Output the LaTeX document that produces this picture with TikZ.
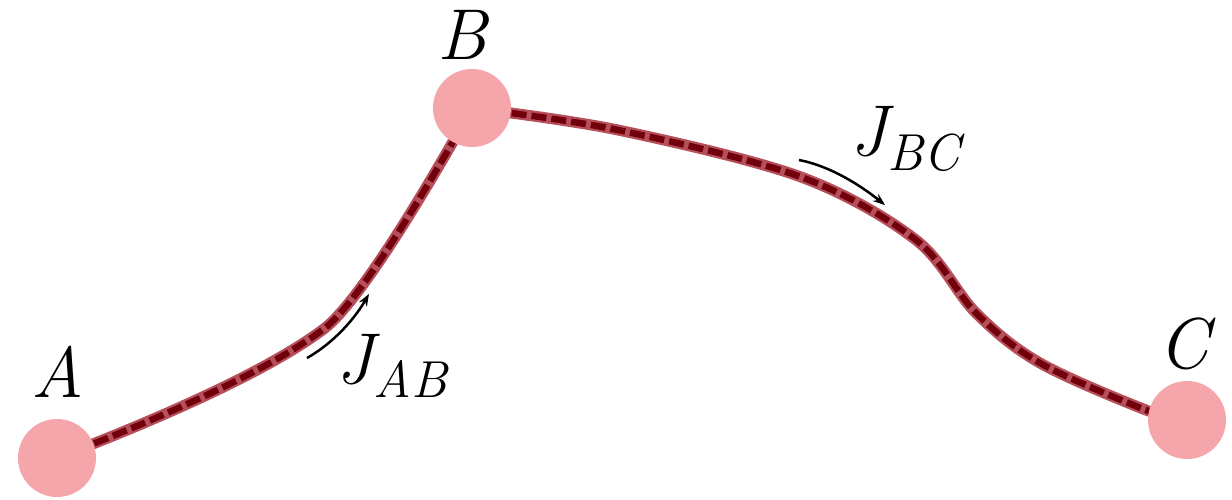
\documentclass[tikz,border=0pt]{standalone}
\usepackage{fontspec}
\usetikzlibrary{arrows.meta}
\definecolor{dotpink}{HTML}{F4A6AA}
\definecolor{lineouter}{HTML}{B5505B}
\definecolor{lineinner}{HTML}{72000C}
\newcommand{\subtxt}[1]{\raisebox{-0.2em}{\fontsize{52}{56}\selectfont #1}}
\begin{document}
\begin{tikzpicture}[x=1pt,y=-1pt,
  dot/.style={circle,fill=dotpink,minimum size=78pt,inner sep=0pt},
  lbl/.style={inner sep=0pt,font=\fontsize{72}{80}\selectfont\itshape},
  pathouter/.style={line width=11pt,draw=lineouter},
  pathinner/.style={line width=6.5pt,draw=lineinner,dash pattern=on 15pt off 5pt},
  flow/.style={line width=2.5pt,-{Stealth[length=12pt,width=9pt]}}]
\useasboundingbox (0,0) rectangle (1232,499);
\coordinate (A) at (57,458);
\coordinate (B) at (472,108);
\coordinate (C) at (1187,420);
% way points of the connectors
\coordinate (ab) at (325,328);
\coordinate (bc1) at (618,130);
\coordinate (bc2) at (801,177);
\coordinate (bc3) at (916,240);
\coordinate (bc4) at (976,313);
\coordinate (bc5) at (1040,363);
\coordinate (bc6) at (1146,410);
\foreach \s in {pathouter,pathinner}{
  \draw[\s] (A) .. controls (200,403) and (283,360) .. (ab)
                .. controls (352,307) and (405,228) .. (B);
  \draw[\s] plot[smooth,tension=0.55] coordinates {(B) (bc1) (bc2) (bc3) (bc4) (bc5) (bc6) (C)};
}
\node[dot] (nA) at (A) {};
\node[dot] (nB) at (B) {};
\node[dot] (nC) at (C) {};
\node[lbl] (lA) at (58,372) {A};
\node[lbl] (lB) at (462,35) {B};
\node[lbl] (lC) at (1184,344) {C};
\node[lbl] (lJab) at (392,366) {J\subtxt{AB}};
\node[lbl] (lJbc) at (905,139) {J\subtxt{BC}};
\coordinate (jab1) at (307,358);
\coordinate (jab2) at (369,294);
\coordinate (jbc1) at (799,160);
\coordinate (jbc2) at (885,205);
\draw[flow] (jab1) .. controls (335,342) and (355,318) .. (jab2);
\draw[flow] (jbc1) .. controls (830,166) and (860,185) .. (jbc2);
\end{tikzpicture}
\end{document}
